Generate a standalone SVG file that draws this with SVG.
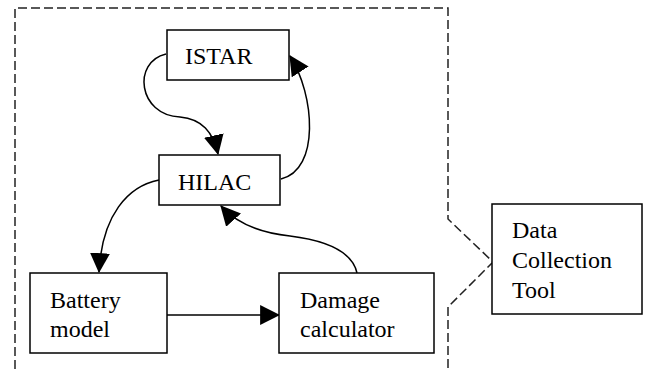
<svg xmlns="http://www.w3.org/2000/svg" width="647" height="369" viewBox="0 0 647 369">
<style>
.box{fill:#fff;stroke:#000;stroke-width:1.5}
.t{font-size:24px;fill:#000}
.c{fill:none;stroke:#000;stroke-width:1.5}
.d{fill:none;stroke:#222;stroke-width:1.5;stroke-dasharray:9,4}
</style>
<defs>
<marker id="ah" markerUnits="userSpaceOnUse" markerWidth="20" markerHeight="20" viewBox="0 0 18 18" refX="17" refY="9" orient="auto">
<path d="M0,0 L18,9 L0,18 Z" fill="#000"/>
</marker>
</defs>
<path class="d" d="M15,369 L15,8 L448,8 L448,219 L493,262 L448,307 L448,369"/>
<g id="connectors">
<path class="c" d="M166,54 C132,62 138,115 180,117 C202,119 213,132 218,154" marker-end="url(#ah)"/>
<path class="c" d="M281,179 C320,170 315,95 290,56" marker-end="url(#ah)"/>
<path class="c" d="M159,180 C128,186 102,215 99,272" marker-end="url(#ah)"/>
<path class="c" d="M167,315 L279,315" marker-end="url(#ah)"/>
<path class="c" d="M357,273 C352,250 322,240 290,236 C262,233 238,225 221,206" marker-end="url(#ah)"/>
</g>
<g font-family="Liberation Serif, Tinos, Times New Roman, serif">
<g id="istar"><rect class="box" x="167" y="30" width="122" height="50"/><text class="t" x="185" y="64">ISTAR</text></g>
<g id="hilac"><rect class="box" x="159" y="155" width="121" height="50"/><text class="t" x="178" y="190">HILAC</text></g>
<g id="battery"><rect class="box" x="30" y="273" width="137" height="80"/><text class="t" x="50" y="308">Battery</text><text class="t" x="50" y="337">model</text></g>
<g id="damage"><rect class="box" x="279" y="273" width="155" height="80"/><text class="t" x="300" y="308">Damage</text><text class="t" x="300" y="337">calculator</text></g>
<g id="dct"><rect class="box" x="492" y="204" width="150" height="110"/><text class="t" x="512" y="238">Data</text><text class="t" x="512" y="268">Collection</text><text class="t" x="512" y="298">Tool</text></g>
</g>
</svg>
